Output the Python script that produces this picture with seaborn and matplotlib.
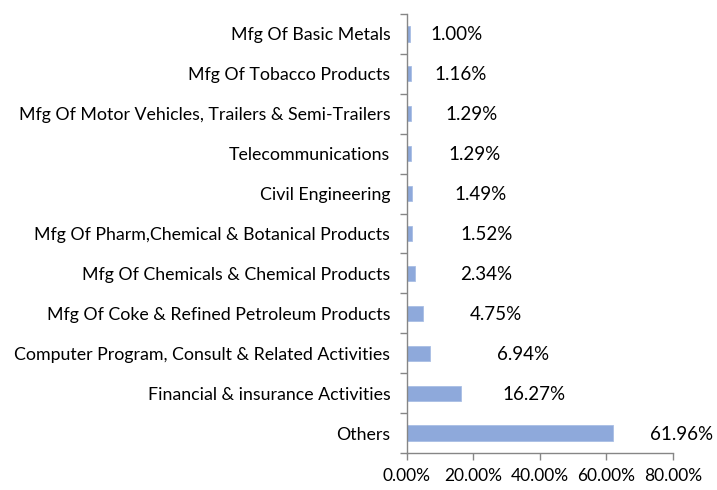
import pandas as pd
import matplotlib.pyplot as plt
import seaborn as sns
from matplotlib.ticker import FixedLocator, PercentFormatter

# Sector allocation data (top to bottom)
sectors = [
    'Mfg Of Basic Metals',
    'Mfg Of Tobacco Products',
    'Mfg Of Motor Vehicles, Trailers & Semi-Trailers',
    'Telecommunications',
    'Civil Engineering',
    'Mfg Of Pharm,Chemical & Botanical Products',
    'Mfg Of Chemicals & Chemical Products',
    'Mfg Of Coke & Refined Petroleum Products',
    'Computer Program, Consult & Related Activities',
    'Financial & insurance Activities',
    'Others',
]
weights = [1.00, 1.16, 1.29, 1.29, 1.49, 1.52, 2.34, 4.75, 6.94, 16.27, 61.96]
x_ticks = [0, 20, 40, 60, 80]

# label offsets from bar end, in pixels (as placed in the original chart)
label_offsets = [20, 24, 34, 37, 43, 48, 45, 47, 67, 41, 37]

df = pd.DataFrame({'sector': sectors, 'weight': weights})

sns.set_style('white')
plt.rcParams['font.family'] = ['Lato', 'DejaVu Sans']

fig = plt.figure(figsize=(7.17, 4.90), dpi=100)
ax = fig.add_axes([0.5676, 0.0755, 0.3710, 0.8959])

sns.barplot(data=df, x='weight', y='sector', orient='h', color='#8EA9DB',
            saturation=1, width=0.38, edgecolor='#A9BEE4', linewidth=0.6, ax=ax)

ax.set_xlim(0, 80)
ax.set_ylim(10.5, -0.5)
ax.xaxis.set_major_locator(FixedLocator(x_ticks))
ax.xaxis.set_major_formatter(PercentFormatter(decimals=2))
ax.set_xlabel('')
ax.set_ylabel('')

# category boundary ticks, Excel style
ax.yaxis.set_minor_locator(FixedLocator([i - 0.5 for i in range(len(sectors) + 1)]))
ax.tick_params(axis='y', which='major', length=0, pad=12, labelsize=12.8, colors='black')
ax.tick_params(axis='y', which='minor', length=5, width=1, color='#868686', left=True)
ax.tick_params(axis='x', which='major', length=5, width=1, color='#868686',
               bottom=True, labelsize=12.5, labelcolor='black', pad=6)
for lbl in ax.get_yticklabels():
    lbl.set_va('center_baseline')

sns.despine(ax=ax)
for side in ['left', 'bottom']:
    ax.spines[side].set_color('#868686')
    ax.spines[side].set_linewidth(1)

for i, (v, off) in enumerate(zip(weights, label_offsets)):
    ax.annotate(f'{v:.2f}%', xy=(v, i), xytext=(off, -1), textcoords='offset pixels',
                ha='left', va='center', fontsize=13.5, color='black')

fig.savefig('out.png', dpi=100)
